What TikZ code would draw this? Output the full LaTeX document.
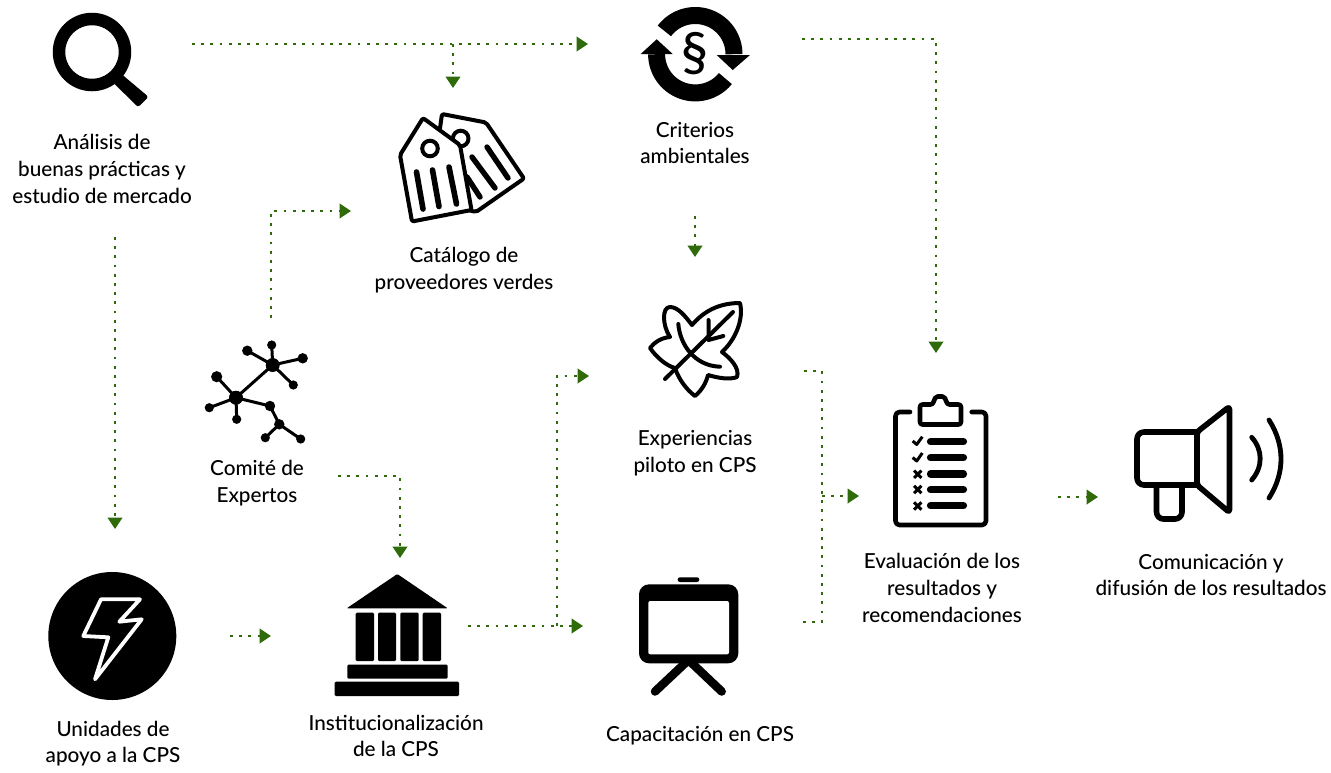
\documentclass[tikz,border=0pt]{standalone}
\usepackage{fontspec}
\setmainfont{Lato Medium}
\usetikzlibrary{arrows.meta}
\definecolor{flow}{HTML}{2F6B0A}
\tikzset{
  lab/.style={align=center,inner sep=0pt,text=black,font=\fontsize{20.7}{26.7}\selectfont},
  flowline/.style={draw=flow,line width=2.8pt,dash pattern=on 2.8pt off 6.4pt},
  flowarrow/.style={flowline,-{Triangle[length=11.5pt,width=14.5pt,fill=flow]}},
  icon/.style={draw=black,line join=round,line cap=round,fill=none},
  solidicon/.style={fill=black,rounded corners=1.2pt},
  netedge/.style={draw=black,line width=3pt},
}
\begin{document}
\begin{tikzpicture}[x=1pt,y=-1pt]
\useasboundingbox (0,0) rectangle (1331,772);
\fill[white] (0,0) rectangle (1331,772);

% labels
\node[lab] (analisis) at (102,169) {Análisis de\\buenas prácticas y\\estudio de mercado};
\node[lab] (criterios) at (695,143) {Criterios\\ambientales};
\node[lab] (catalogo) at (464,270) {Catálogo de\\proveedores verdes};
\node[lab] (comite) at (257,483) {Comité de\\Expertos};
\node[lab] (piloto) at (695,453) {Experiencias\\piloto en CPS};
\node[lab] (evaluacion) at (942,588) {Evaluación de los\\resultados y\\recomendaciones};
\node[lab] (comunicacion) at (1211,575) {Comunicación y\\difusión de los resultados};
\node[lab] (unidades) at (113,743.5) {Unidades de\\apoyo a la CPS};
\node[lab] (instit) at (396,736) {Institucionalización\\de la CPS};
\node[lab] (capacitacion) at (700,736) {Capacitación en CPS};

% connector end points
\coordinate (a1) at (192,44);
\coordinate (a2) at (588,44);
\coordinate (b1) at (453,44);
\coordinate (b2) at (453,88);
\coordinate (c1) at (802,39);
\coordinate (c2) at (936,39);
\coordinate (c3) at (936,353);
\coordinate (d1) at (695,216);
\coordinate (d2) at (695,257);
\coordinate (e1) at (115,237);
\coordinate (e2) at (115,529);
\coordinate (f1) at (271,318);
\coordinate (f2) at (271,211);
\coordinate (f3) at (351,211);
\coordinate (g1) at (338,476);
\coordinate (g2) at (400,476);
\coordinate (g3) at (400,558);
\coordinate (h1) at (230,636);
\coordinate (h2) at (271,636);
\coordinate (i1) at (468,626);
\coordinate (i2) at (583,626);
\coordinate (j1) at (557,626);
\coordinate (j2) at (557,376);
\coordinate (j3) at (589,376);
\coordinate (k1) at (804,371);
\coordinate (k2) at (822,371);
\coordinate (k3) at (822,622);
\coordinate (k4) at (802,622);
\coordinate (l1) at (822,496);
\coordinate (l2) at (859,496);
\coordinate (m1) at (1058,497);
\coordinate (m2) at (1098,497);

% connectors
\draw[flowarrow] (a1) -- (a2);
\draw[flowarrow] (b1) -- (b2);
\draw[flowarrow] (c1) -- (c2) -- (c3);
\draw[flowarrow] (d1) -- (d2);
\draw[flowarrow] (e1) -- (e2);
\draw[flowarrow] (f1) -- (f2) -- (f3);
\draw[flowarrow] (g1) -- (g2) -- (g3);
\draw[flowarrow] (h1) -- (h2);
\draw[flowarrow] (i1) -- (i2);
\draw[flowarrow] (j1) -- (j2) -- (j3);
\draw[flowline] (k1) -- (k2) -- (k3) -- (k4);
\draw[flowarrow] (l1) -- (l2);
\draw[flowarrow] (m1) -- (m2);

% magnifier
\draw[black,line width=12.5pt] (92,52) circle[radius=33pt];
\fill[black,rounded corners=2.5pt] (115.2,68.8) -- (148.5,96.8) -- (138.1,107.2) -- (109.8,79.2) -- cycle;

% tags
\begin{scope}[icon,line width=4pt]
\draw[fill=white,rounded corners=2pt] (442,114) -- (486,122.5) -- (524,178.5) -- (476,212) -- (430,200) -- cycle;
\draw (460.7,138.5) circle[radius=7.8pt];
\draw[line width=5.4pt] (487,147) -- (508,178);
\draw[line width=5.4pt] (472,157) -- (495,188);
\draw[line width=5.4pt] (467,177) -- (480,197);
\draw[fill=white,rounded corners=2pt] (423,118) -- (460,145) -- (471.5,210) -- (412,221.5) -- (400,155) -- cycle;
\draw (430,148.5) circle[radius=7.8pt];
\draw[line width=5.6pt] (416.5,172) -- (423,209);
\draw[line width=5.6pt] (432.5,170) -- (439,206.5);
\draw[line width=5.6pt] (449,167) -- (456.5,204);
\end{scope}

% circular arrows
\draw[black,line width=17pt,domain=143:0,samples=50] plot ({695.3+38.7*cos(\x)},{54.2-38.7*sin(\x)});
\fill[black] (716.7,55) -- (750,55) -- (732.7,70) -- cycle;
\draw[black,line width=17pt,domain=-39:-180,samples=50] plot ({695.3+38.7*cos(\x)},{54.2-38.7*sin(\x)});
\fill[black] (640.7,54) -- (672.7,54) -- (656.7,39.3) -- cycle;
\node[inner sep=0pt,font=\fontsize{54}{54}\selectfont] (parag) at (695,54) {§};

% network
\draw[netedge] (272.7,365) -- (247.3,350.7) (272.7,365) -- (271.7,345) (272.7,365) -- (302.7,358.3) (272.7,365) -- (293.3,385) (272.7,365) -- (236,397.7) (236,397.7) -- (216.7,376.7) (236,397.7) -- (209.3,407.7) (236,397.7) -- (236.7,419.3) (236,397.7) -- (270,406) (270,406) -- (279.3,424.3) (279.3,424.3) -- (265.3,437.7) (279.3,424.3) -- (300.7,439);
\fill[black] (272.7,365) circle[radius=7pt] (236,397.7) circle[radius=7pt]
 (247.3,350.7) circle[radius=5.2pt] (271.7,345) circle[radius=4.6pt] (302.7,358.3) circle[radius=5.2pt] (293.3,385) circle[radius=4.6pt]
 (216.7,376.7) circle[radius=5.6pt] (209.3,407.7) circle[radius=4.6pt] (236.7,419.3) circle[radius=4.6pt]
 (270,406) circle[radius=5.2pt] (279.3,424.3) circle[radius=5.2pt] (265.3,437.7) circle[radius=4.6pt] (300.7,439) circle[radius=4.6pt];

% leaf
\begin{scope}[icon,line width=4pt]
\draw (740,303) .. controls (718,303) and (703,312) .. (692,325)
 .. controls (685,316) and (678,307) .. (670,307)
 .. controls (662,307) and (662,325) .. (670,337)
 .. controls (660,338) and (654,343) .. (650,348)
 .. controls (657,358) and (667,366) .. (675,368)
 .. controls (679,380) and (687,390) .. (695,396)
 .. controls (702,390) and (706,383) .. (708,375)
 .. controls (718,378) and (730,380) .. (737,377)
 .. controls (740,368) and (730,358) .. (722,352)
 .. controls (735,340) and (744,320) .. (740,303) -- cycle;
\draw (665,379) -- (733,312);
\draw (708.5,320) -- (708.5,340) -- (723.3,336);
\draw (678.3,324) .. controls (680,345) and (695,366) .. (720,366.7);
\end{scope}

% clipboard
\begin{scope}[icon,line width=4.6pt]
\draw[rounded corners=4pt] (910,412) -- (895.5,412) -- (895.5,525) -- (986,525) -- (986,412) -- (971.7,412);
\draw[rounded corners=2.5pt] (920,404.5) -- (933,404.5) .. controls (934,399) and (936,396.5) .. (940,396.5) .. controls (944,396.5) and (946,399) .. (947,404.5) -- (961,404.5) -- (961,424.5) -- (920,424.5) -- cycle;
\foreach \yy in {441.7,457.7,474,489.7,505.7}{\draw[line width=7.2pt] (930.5,\yy) -- (963.5,\yy);}
\draw[line width=3pt,line cap=butt] (912.7,441) -- (916.7,444.5) -- (922.3,436.7);
\draw[line width=3pt,line cap=butt] (912.7,457.5) -- (916.7,461) -- (922.3,453);
\foreach \yy in {474.3,489.5,506}{\draw[line width=3pt,line cap=butt] (914,\yy-3.7) -- (921.4,\yy+3.7) (914,\yy+3.7) -- (921.4,\yy-3.7);}
\end{scope}

% megaphone
\begin{scope}[icon,line width=5.6pt]
\draw[rounded corners=7pt] (1197,432) -- (1137,432) -- (1137,485) -- (1197,485);
\draw[rounded corners=3pt] (1197,432) -- (1229.5,406.5) -- (1229.5,512.5) -- (1197,485) -- cycle;
\draw[rounded corners=7pt] (1156.5,485.5) -- (1156.5,519) -- (1182,519) -- (1182,485.5);
\draw[line width=4.8pt] (1251.7,437.3) .. controls (1263,450) and (1263,467) .. (1251.7,480);
\draw[line width=4.8pt] (1269,420) .. controls (1285,445) and (1285,473) .. (1269,498);
\end{scope}

% bolt
\fill[black] (112.3,636) circle[radius=64pt];
\draw[white,line width=3.8pt,line join=round,line cap=round] (101,599.3) -- (140,599.3) -- (119.3,621.7) -- (141.7,619.3) -- (95,679.3) -- (108.3,637.3) -- (83.3,636) -- cycle;

% bank
\fill[black,rounded corners=1pt] (397.3,574) -- (447.7,608.3) -- (346.7,608.3) -- cycle;
\fill[solidicon] (355.7,612.7) rectangle (374,661);
\fill[solidicon] (378,612.7) rectangle (396,661);
\fill[solidicon] (400.3,612.7) rectangle (418.7,661);
\fill[solidicon] (422.7,612.7) rectangle (441,661);
\fill[solidicon] (347.3,664.7) rectangle (447.7,678.7);
\fill[solidicon] (334.7,681.7) rectangle (459,696);

% presentation board
\draw[black,line width=8.5pt,line cap=round,line join=miter] (655,691.5) -- (688.5,660) -- (721.7,691.5);
\fill[black,rounded corners=2.2pt] (677.7,577.3) rectangle (699.3,582);
\fill[black,rounded corners=10pt] (639,584.3) rectangle (738.3,663.3);
\fill[white,rounded corners=2pt] (648.3,601) rectangle (729,654.3);
\end{tikzpicture}
\end{document}
